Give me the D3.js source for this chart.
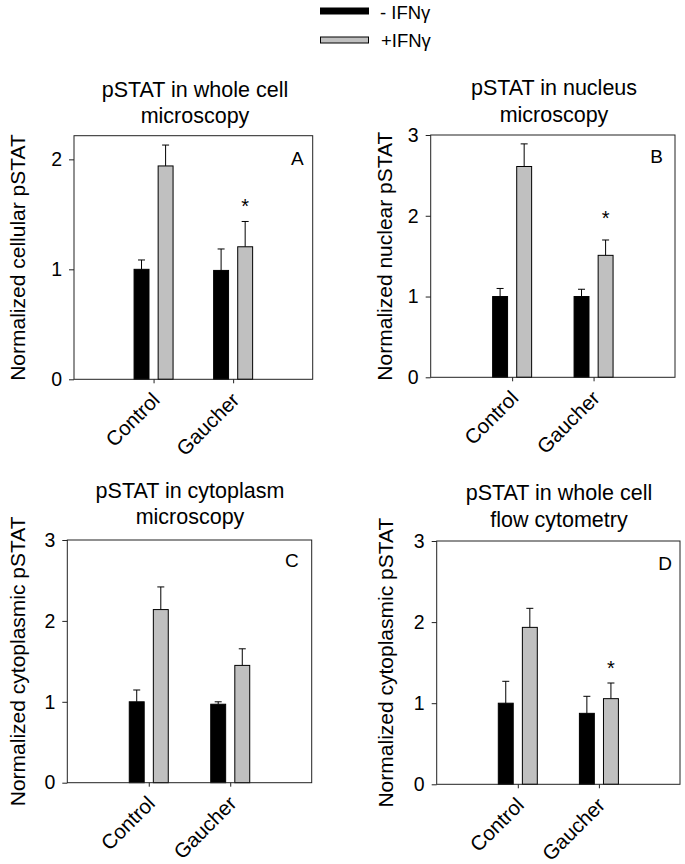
<!DOCTYPE html>
<html>
<head>
<meta charset="utf-8">
<script src="https://cdn.jsdelivr.net/npm/d3@7/dist/d3.min.js"></script>
<style>
  html, body { margin: 0; padding: 0; background: #fff; }
  svg { display: block; }
  text { font-family: "Liberation Sans", Arial, Helvetica, sans-serif; fill: #000; }
</style>
</head>
<body>
<svg id="chart" width="685" height="864"></svg>
<script>
// ---------------- data ----------------
const categories = ["Control", "Gaucher"];
const seriesNames = ["- IFNγ", "+IFNγ"];
const panelLetters = ["A", "B", "C", "D"];
const panelTitles = [
  ["pSTAT in whole cell", "microscopy"],
  ["pSTAT in nucleus", "microscopy"],
  ["pSTAT in cytoplasm", "microscopy"],
  ["pSTAT in whole cell", "flow cytometry"]
];
const yLabels = [
  "Normalized cellular pSTAT",
  "Normalized nuclear pSTAT",
  "Normalized cytoplasmic pSTAT",
  "Normalized cytoplasmic pSTAT"
];
const yMax = [2.215, 3, 3, 3];
const yTicksA = [0, 1, 2];
const yTicksBCD = [0, 1, 2, 3];

// means, [Control, Gaucher]
const minusIFN_A = [1.00, 0.99];
const plusIFN_A  = [1.94, 1.205];
const minusErr_A = [0.085, 0.195];
const plusErr_A  = [0.19, 0.23];

const minusIFN_B = [1.00, 1.00];
const plusIFN_B  = [2.61, 1.51];
const minusErr_B = [0.10, 0.09];
const plusErr_B  = [0.28, 0.19];

const minusIFN_C = [1.00, 0.97];
const plusIFN_C  = [2.14, 1.45];
const minusErr_C = [0.146, 0.03];
const plusErr_C  = [0.28, 0.205];

const minusIFN_D = [1.00, 0.875];
const plusIFN_D  = [1.935, 1.056];
const minusErr_D = [0.27, 0.21];
const plusErr_D  = [0.235, 0.193];

// significance stars: [category index, series index, y level]
const stars_A = [[1, 1, 1.615]];
const stars_B = [[1, 1, 2.02]];
const stars_C = [];
const stars_D = [[1, 1, 1.483]];

// ---------------- layout ----------------
const layout = [
  { left: 74,    top: 135.7, right: 312.7, bottom: 379.3, ylab: 25,    titleX: 195, titleY: 96.5, letterDx: 9,  letterDy: 29 },
  { left: 430.7, top: 135,   right: 675,   bottom: 377.3, ylab: 391.5, titleX: 554, titleY: 95,   letterDx: 12, letterDy: 28 },
  { left: 67.3,  top: 540,   right: 311.7, bottom: 782.7, ylab: 25,    titleX: 190, titleY: 497.5,letterDx: 13, letterDy: 27 },
  { left: 436.7, top: 541,   right: 680,   bottom: 784.3, ylab: 393,   titleX: 559, titleY: 500,  letterDx: 8,  letterDy: 29 }
];
const colors = ["#000000", "#c0c0c0"];

const panels = [
  { ticks: yTicksA,   means: [minusIFN_A, plusIFN_A], errs: [minusErr_A, plusErr_A], stars: stars_A },
  { ticks: yTicksBCD, means: [minusIFN_B, plusIFN_B], errs: [minusErr_B, plusErr_B], stars: stars_B },
  { ticks: yTicksBCD, means: [minusIFN_C, plusIFN_C], errs: [minusErr_C, plusErr_C], stars: stars_C },
  { ticks: yTicksBCD, means: [minusIFN_D, plusIFN_D], errs: [minusErr_D, plusErr_D], stars: stars_D }
];

const svg = d3.select("#chart");

// ---------------- legend ----------------
const legend = svg.append("g");
legend.append("rect").attr("x", 320).attr("y", 7.5).attr("width", 49).attr("height", 7)
  .attr("fill", colors[0]);
legend.append("rect").attr("x", 320.5).attr("y", 37).attr("width", 48).attr("height", 6)
  .attr("fill", colors[1]).attr("stroke", "#000").attr("stroke-width", 1);
legend.append("text").attr("x", 380).attr("y", 18.5).attr("font-size", 18.5).text(seriesNames[0]);
legend.append("text").attr("x", 381).attr("y", 46.5).attr("font-size", 18.5).text(seriesNames[1]);

// ---------------- panels ----------------
panels.forEach((p, pi) => {
  const L = layout[pi];
  const W = L.right - L.left, H = L.bottom - L.top;
  const g = svg.append("g").attr("transform", `translate(${L.left},${L.top})`);

  const x = d3.scaleLinear().domain([0, 3]).range([0, W]);
  const y = d3.scaleLinear().domain([0, yMax[pi]]).range([H, 0]);
  const inner = d3.scaleBand().domain(d3.range(seriesNames.length))
    .range([-19.5, 19.5]).paddingInner(0.38);

  // title
  panelTitles[pi].forEach((t, li) => {
    svg.append("text").attr("x", L.titleX).attr("y", L.titleY + li * 26.5)
      .attr("text-anchor", "middle").attr("font-size", 21.5).text(t);
  });

  // y label
  svg.append("text")
    .attr("transform", `translate(${L.ylab},${(L.top + L.bottom) / 2}) rotate(-90)`)
    .attr("text-anchor", "middle").attr("font-size", 21).text(yLabels[pi]);

  // bars
  p.means.forEach((vals, si) => {
    vals.forEach((v, ci) => {
      const bx = x(ci + 1) + inner(si);
      const bw = inner.bandwidth();
      const top = y(v + p.errs[si][ci]);
      g.append("line").attr("x1", bx + bw / 2).attr("x2", bx + bw / 2)
        .attr("y1", y(v)).attr("y2", top).attr("stroke", "#000").attr("stroke-width", 1);
      g.append("line").attr("x1", bx + bw / 2 - 3.5).attr("x2", bx + bw / 2 + 3.5)
        .attr("y1", top).attr("y2", top).attr("stroke", "#000").attr("stroke-width", 1);
      g.append("rect").attr("x", bx).attr("y", y(v)).attr("width", bw).attr("height", y(0) - y(v))
        .attr("fill", colors[si]).attr("stroke", "#000").attr("stroke-width", 1);
    });
  });

  // stars
  p.stars.forEach(([ci, si, lvl]) => {
    const cx = x(ci + 1) + inner(si) + inner.bandwidth() / 2;
    g.append("text").attr("x", cx).attr("y", y(lvl) + 11).attr("text-anchor", "middle")
      .attr("font-size", 20).text("*");
  });

  // frame
  g.append("rect").attr("x", 0).attr("y", 0).attr("width", W).attr("height", H)
    .attr("fill", "none").attr("stroke", "#222").attr("stroke-width", 1);

  // y axis
  const ya = g.append("g").call(d3.axisLeft(y).tickValues(p.ticks).tickSize(5).tickPadding(7)
    .tickFormat(d3.format("d")));
  ya.select(".domain").remove();
  ya.selectAll("line").attr("stroke", "#222");
  ya.selectAll("text").attr("font-size", 19.5).attr("font-family", null);

  // x axis
  const xa = g.append("g").attr("transform", `translate(0,${H})`)
    .call(d3.axisBottom(x).tickValues([1, 2]).tickSize(4).tickFormat(d => categories[d - 1]));
  xa.select(".domain").remove();
  xa.selectAll("line").attr("stroke", "#222");
  xa.selectAll("text").attr("font-size", 20.5).attr("font-family", null)
    .attr("text-anchor", "end").attr("dy", null).attr("y", 0)
    .attr("transform", "translate(7,22) rotate(-45)");

  // letter
  g.append("text").attr("x", W - L.letterDx).attr("y", L.letterDy).attr("text-anchor", "end")
    .attr("font-size", 19).text(panelLetters[pi]);
});
</script>
</body>
</html>
